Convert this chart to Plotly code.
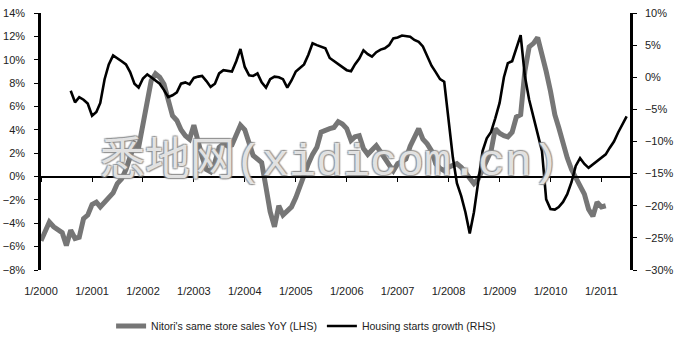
import plotly.graph_objects as go
import pandas as pd

# ---------------- data ----------------
nitori_start = "2000-01-01"
nitori_sss = [
    -5.5, -4.7, -3.9, -4.3, -4.5, -4.8, -5.9, -4.6, -5.3, -5.2, -3.6, -3.3,
    -2.4, -2.2, -2.6, -2.2, -1.8, -1.4, -0.6, -0.2, 0.6, 1.7, 2.8, 2.5,
    4.3, 6.6, 8.2, 8.8, 8.5, 7.9, 6.6, 5.2, 4.8, 4.0, 3.5, 3.2,
    4.4, 2.8, 1.7, 0.6, 0.4, 1.2, 2.5, 2.8, 2.6, 2.7, 3.6, 4.4,
    4.0, 2.8, 1.8, 1.5, 1.2, -0.9, -3.0, -4.3, -2.5, -3.3, -3.0, -2.6,
    -1.8, -0.8, 0.3, 1.1, 1.9, 2.5, 3.8, 4.0, 4.1, 4.2, 4.7, 4.5,
    4.1, 3.1, 3.4, 3.5, 2.4, 1.9, 2.3, 2.65, 2.1, 1.5, 1.0, 0.5,
    1.1, 1.3, 1.5, 2.6, 3.3, 4.1, 3.2, 2.8, 2.2, 1.1, 0.7, 0.5,
    0.8, 1.0, 1.1, 0.8, 0.3, -0.05, -0.6, -0.2, 0.6, 1.2, 2.2, 4.1,
    3.7, 3.5, 3.4, 3.8, 5.1, 5.3, 9.0, 11.1, 11.4, 11.9, 10.6, 9.0,
    7.3, 5.3, 4.2, 2.8, 1.6, 0.6, 0.0, -0.8, -1.5, -2.8, -3.4, -2.2,
    -2.6, -2.5,
]

housing_start = "2000-08-01"
housing_growth = [
    -2.1, -3.9, -3.1, -3.5, -4.1,
    -6.0, -5.4, -4.0, -0.3, 2.0, 3.4, 3.0, 2.5, 2.0, 0.8, -1.0, -1.6,
    -0.2, 0.45, 0.0, -0.5, -1.0, -2.0, -3.1, -2.8, -2.35, -1.0, -0.8, -1.1,
    -0.1, 0.1, 0.2, -0.6, -1.5, -1.0, 0.6, 1.1, 0.95, 0.9, 2.5, 4.4,
    1.6, 0.3, 0.2, 0.6, -0.8, -1.6, -0.3, 0.1, 0.0, -0.3, -1.6, -0.5,
    0.9, 1.5, 2.0, 3.5, 5.3, 5.0, 4.8, 4.5, 3.0, 2.5, 2.1, 1.5,
    1.1, 0.95, 2.0, 2.9, 4.2, 3.6, 3.2, 3.9, 4.3, 4.5, 5.0, 6.05,
    6.2, 6.5, 6.4, 6.3, 5.8, 5.5, 4.8, 3.3, 1.8, 0.8, -0.3, -0.7,
    -6.5, -12.5, -16.5, -18.5, -21.0, -24.3, -21.0, -16.5, -11.5, -9.5, -8.5, -6.4,
    -4.0, 0.0, 2.2, 2.5, 4.5, 6.55, 0.2, -3.5, -6.2, -8.8, -11.5, -19.0,
    -20.5, -20.6, -20.2, -19.4, -18.2, -16.3, -13.8, -12.6, -13.5, -14.1, -13.6, -13.1,
    -12.6, -12.0, -11.0, -10.0, -8.6, -7.2, -6.1,
]

tick_dates = [f"{y}-01-01" for y in range(2000, 2012)]
tick_labels = [f"1/{y}" for y in range(2000, 2012)]

series_names = ["Nitori's same store sales YoY (LHS)", "Housing starts growth (RHS)"]
watermark = "悉地网(xidicom.cn)"

# --------------- figure ---------------
nitori_dates = pd.date_range(nitori_start, periods=len(nitori_sss), freq="MS")
housing_dates = pd.date_range(housing_start, periods=len(housing_growth), freq="MS")

SANS = "Liberation Sans, Arial, sans-serif"
xrange = ["2000-01-01", "2011-07-25"]

fig = go.Figure()
fig.add_trace(go.Scatter(
    x=nitori_dates, y=nitori_sss, name=series_names[0], mode="lines",
    line=dict(color="#767676", width=5), yaxis="y", xaxis="x",
))
fig.add_trace(go.Scatter(
    x=housing_dates, y=housing_growth, name=series_names[1], mode="lines",
    line=dict(color="#000000", width=2.6), yaxis="y2", xaxis="x",
))

fig.update_layout(
    width=675, height=354,
    margin=dict(l=41, r=45, t=13, b=84, autoexpand=False),
    paper_bgcolor="white", plot_bgcolor="white",
    font=dict(family=SANS, size=11, color="#222"),
    showlegend=True,
    legend=dict(orientation="h", x=0.119, xanchor="left", y=-0.218, yanchor="middle",
                font=dict(family=SANS, size=10.5, color="#222"),
                bgcolor="rgba(0,0,0,0)", itemwidth=30),
    xaxis=dict(type="date", range=xrange, showgrid=False, zeroline=False,
               showline=False, ticks="", tickmode="array", automargin=False,
               tickvals=tick_dates, ticktext=tick_labels,
               ticklabelstandoff=13,
               tickfont=dict(family=SANS, size=11, color="#222")),
    xaxis2=dict(type="date", range=xrange, overlaying="x", anchor="free",
                position=8 / 22, showgrid=False, zeroline=False, automargin=False,
                showline=True, linecolor="black", linewidth=2,
                ticks="outside", ticklen=4, tickwidth=1, tickcolor="black",
                tickmode="array", tickvals=tick_dates, showticklabels=False),
    yaxis=dict(range=[-8, 14], dtick=2, tick0=0, ticksuffix="%", automargin=False,
               showgrid=False, zeroline=False, showline=True,
               linecolor="black", linewidth=2.5, ticks="outside", ticklen=4,
               tickcolor="black", ticklabelstandoff=7,
               tickfont=dict(family=SANS, size=11, color="#222")),
    yaxis2=dict(range=[-30, 10], dtick=5, tick0=0, ticksuffix="%", automargin=False,
                overlaying="y", side="right", anchor="x",
                showgrid=False, zeroline=False, showline=True,
                linecolor="black", linewidth=2.5, ticks="outside", ticklen=4,
                tickcolor="black", ticklabelstandoff=6,
                tickfont=dict(family=SANS, size=11, color="#222")),
)

# invisible trace so the zero-line axis (x2) renders
fig.add_trace(go.Scatter(x=[xrange[0]], y=[None], xaxis="x2", yaxis="y",
                         showlegend=False, hoverinfo="skip"))

fig.add_annotation(
    text=watermark, xref="paper", yref="paper", x=0.49, y=0.42,
    showarrow=False,
    font=dict(family="Liberation Mono, Noto Sans CJK SC, monospace", size=45,
              color="rgba(255,255,255,0.75)",
              shadow="1px 1px 1px #8a8a8a, -1px -1px 1px #8a8a8a, 1px -1px 1px #8a8a8a, -1px 1px 1px #8a8a8a"),
)

fig.write_html("out.html")
